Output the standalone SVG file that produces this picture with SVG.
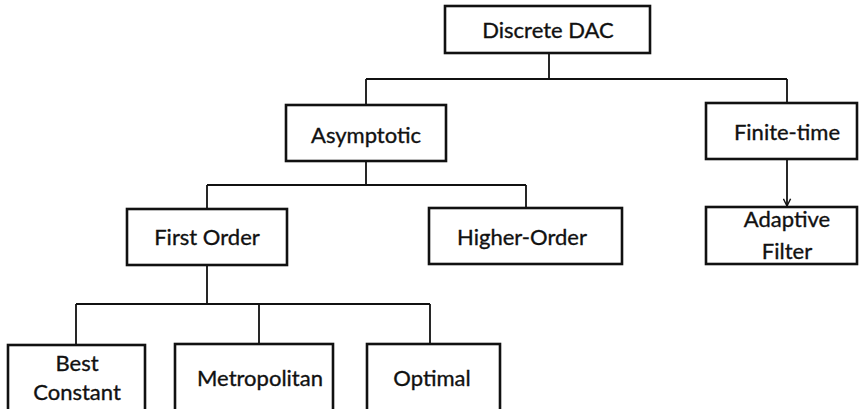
<svg xmlns="http://www.w3.org/2000/svg" width="859" height="409" viewBox="0 0 859 409">
<style>
.box{fill:#fff;stroke:#111;stroke-width:2.6}
.ln{fill:none;stroke:#111;stroke-width:1.8}
text{font-family:Lato,"Open Sans","Liberation Sans",sans-serif;font-size:22px;fill:#111;stroke:#111;stroke-width:0.35;text-anchor:middle}
</style>
<defs>
<marker id="arr" viewBox="0 0 10 10" refX="9" refY="5" markerWidth="9" markerHeight="9" markerUnits="userSpaceOnUse" orient="auto">
<path d="M1,1 L9,5 L1,9" fill="none" stroke="#111" stroke-width="1.6"/>
</marker>
</defs>
<g id="connectors">
<path class="ln" d="M549,53 V79 M366,79 H787 M366,79 V105 M787,79 V103"/>
<path class="ln" d="M366,161 V185 M207,185 H526 M207,185 V209 M526,185 V208"/>
<path class="ln" d="M207,265 V304 M76,304 H430 M76,304 V345 M259,304 V344 M430,304 V344"/>
<path class="ln" d="M787,159 V206" marker-end="url(#arr)"/>
</g>
<g id="discrete-dac"><rect class="box" x="445" y="6" width="205" height="47"/><text x="548" y="38">Discrete DAC</text></g>
<g id="asymptotic"><rect class="box" x="286" y="105" width="160" height="56"/><text x="366" y="143">Asymptotic</text></g>
<g id="finite-time"><rect class="box" x="706" y="103" width="151" height="56"/><text x="787" y="140">Finite-time</text></g>
<g id="adaptive-filter"><rect class="box" x="706" y="207" width="151" height="57"/><text x="787" y="227">Adaptive</text><text x="787" y="259">Filter</text></g>
<g id="first-order"><rect class="box" x="127" y="209" width="160" height="56"/><text x="207" y="245">First Order</text></g>
<g id="higher-order"><rect class="box" x="429" y="208" width="193" height="56"/><text x="522" y="245">Higher-Order</text></g>
<g id="best-constant"><rect class="box" x="8" y="345" width="137" height="70"/><text x="77" y="371">Best</text><text x="77" y="400">Constant</text></g>
<g id="metropolitan"><rect class="box" x="175" y="344" width="158" height="70"/><text x="260" y="386">Metropolitan</text></g>
<g id="optimal"><rect class="box" x="367" y="344" width="133" height="70"/><text x="432" y="386">Optimal</text></g>
</svg>
